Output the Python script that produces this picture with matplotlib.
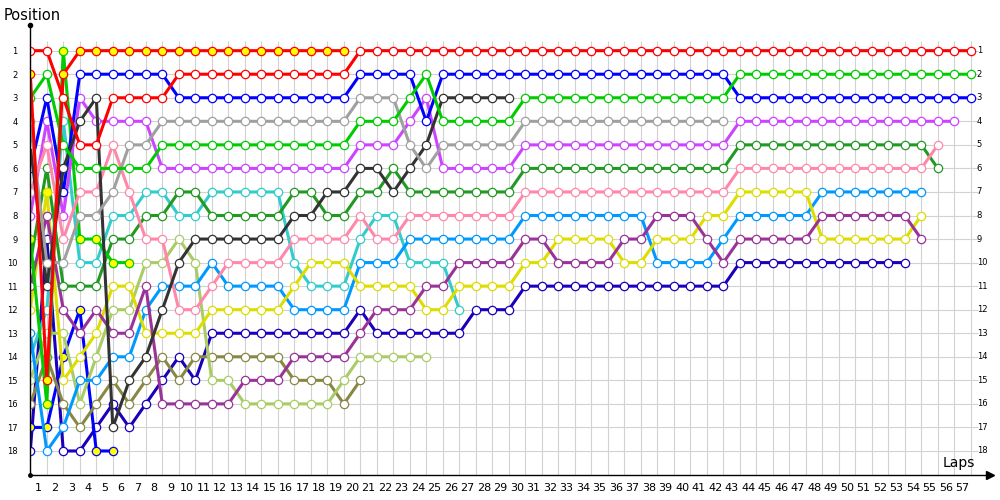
import matplotlib
matplotlib.use("Agg")
import matplotlib.pyplot as plt

# ---------------- data (position per lap column, starting at column 0) ----------------
lap_labels = list(range(1, 58))
position_labels = list(range(1, 19))

red_b = [1, 1, 3, 5, 5, 3, 3, 3, 3,
         2, 2, 2, 2, 2, 2, 2, 2, 2, 2, 2,
         1, 1, 1, 1, 1, 1, 1, 1, 1, 1, 1, 1, 1, 1, 1, 1, 1, 1, 1,
         1, 1, 1, 1, 1, 1, 1, 1, 1, 1, 1, 1, 1, 1, 1, 1, 1, 1, 1]
red_a = [2, 15, 2, 1, 1, 1, 1, 1, 1, 1, 1, 1, 1, 1, 1, 1, 1, 1, 1, 1]
green_a = [3, 2, 5, 6, 6, 6, 6, 6,
           5, 5, 5, 5, 5, 5, 5, 5, 5, 5, 5, 5,
           4, 4, 4, 3, 2, 4, 4, 4, 4, 4,
           3, 3, 3, 3, 3, 3, 3, 3, 3, 3, 3, 3, 3,
           2, 2, 2, 2, 2, 2, 2, 2, 2, 2, 2, 2, 2, 2, 2]
blue = [6, 3, 7, 2, 2, 2, 2, 2, 2,
        3, 3, 3, 3, 3, 3, 3, 3, 3, 3, 3,
        2, 2, 2, 2, 4,
        2, 2, 2, 2, 2, 2, 2, 2, 2, 2, 2, 2, 2, 2, 2, 2, 2, 2,
        3, 3, 3, 3, 3, 3, 3, 3, 3, 3, 3, 3, 3, 3, 3]
gray = [4, 10, 10, 8, 8, 7, 5, 5,
        4, 4, 4, 4, 4, 4, 4, 4, 4, 4, 4, 4,
        3, 3, 3, 5, 6, 5, 5, 5, 5, 5,
        4, 4, 4, 4, 4, 4, 4, 4, 4, 4, 4, 4, 4]
black = [5, 11, 6, 4, 3, 17, 15, 14, 12, 10,
         9, 9, 9, 9, 9, 9, 8, 8, 7, 7,
         6, 6, 7, 6, 5, 3, 3, 3, 3, 3]
pink = [7, 5, 9, 7, 7, 5, 7, 9, 9, 12, 12, 11,
        10, 10, 10, 10, 9, 9, 9, 9,
        8, 9, 9, 8, 8, 8, 8, 8, 8, 8,
        7, 7, 7, 7, 7, 7, 7, 7, 7, 7, 7, 7, 7,
        6, 6, 6, 6, 6, 6, 6, 6, 6, 6, 6, 6, 5]
purple = [8, 4, 8, 3, 4, 4, 4, 4,
          6, 6, 6, 6, 6, 6, 6, 6, 6, 6, 6, 6,
          5, 5, 5, 4, 3, 6, 6, 6, 6, 6,
          5, 5, 5, 5, 5, 5, 5, 5, 5, 5, 5, 5, 5,
          4, 4, 4, 4, 4, 4, 4, 4, 4, 4, 4, 4, 4, 4]
green_b = [9, 16, 1, 9, 9, 10, 10]
dark_green = [10, 6, 11, 11, 11, 9, 9, 8, 8, 7, 7,
              8, 8, 8, 8, 8, 7, 7, 8, 8,
              7, 7, 6, 7, 7, 7, 7, 7, 7, 7,
              6, 6, 6, 6, 6, 6, 6, 6, 6, 6, 6, 6, 6,
              5, 5, 5, 5, 5, 5, 5, 5, 5, 5, 5, 5, 6]
dark_purple = [11, 8, 12, 13, 12, 13, 13, 11,
               16, 16, 16, 16, 16, 15, 15, 15, 14, 14, 14, 14,
               13, 12, 12, 12, 11, 11, 10, 10, 10, 10,
               9, 9, 10, 10, 10, 10, 9, 9, 8, 8, 8, 9, 10,
               9, 9, 9, 9, 9, 8, 8, 8, 8, 8, 8, 9]
yellow = [12, 7, 15, 14, 13, 11, 11, 13,
          13, 13, 13, 12, 12, 12, 12, 12, 11, 10, 10, 10,
          11, 11, 11, 11, 12, 12, 11, 11, 11, 11,
          10, 10, 9, 9, 9, 9, 10, 10, 9, 9, 9, 8, 8,
          7, 7, 7, 7, 7, 9, 9, 9, 9, 9, 9, 8]
light_blue = [13, 18, 17, 15, 15, 14, 14, 12, 11, 11, 11, 10,
              11, 11, 11, 11, 12, 12, 12, 12,
              10, 10, 10, 9, 9, 9, 9, 9, 9, 9,
              8, 8, 8, 8, 8, 8, 8, 8, 10, 10, 10, 10, 9,
              8, 8, 8, 8, 8, 7, 7, 7, 7, 7, 7, 7]
cyan = [14, 12, 4, 10, 10, 8, 8, 7, 7, 8, 8,
        7, 7, 7, 7, 7, 10, 11, 11, 11,
        9, 8, 8, 10, 10, 10, 12]
light_green = [15, 13, 13, 16, 14, 12, 12, 10, 10, 9, 10, 15, 15,
               16, 16, 16, 16, 16, 16, 15,
               14, 14, 14, 14, 14]
olive = [16, 14, 16, 17, 16, 15, 16, 15, 14, 15, 14,
         14, 14, 14, 14, 14, 15, 15, 15, 16, 15]
blue_b = [17, 17, 14, 12, 18, 18]
navy = [18, 9, 18, 18, 17, 16, 17, 16, 15, 14, 15,
        13, 13, 13, 13, 13, 13, 13, 13, 13,
        12, 13, 13, 13, 13, 13, 13, 12, 12, 12,
        11, 11, 11, 11, 11, 11, 11, 11, 11, 11, 11, 11, 11,
        10, 10, 10, 10, 10, 10, 10, 10, 10, 10, 10]

series = [
    (navy, "#1a00bb", "white"),
    (blue_b, "#0000ff", "#ffff00"),
    (olive, "#888844", "white"),
    (light_green, "#aacc66", "white"),
    (cyan, "#33cccc", "white"),
    (light_blue, "#0099ff", "white"),
    (yellow, "#dddd00", "white"),
    (dark_purple, "#993399", "white"),
    (dark_green, "#229922", "white"),
    (green_b, "#00cc00", "#ffff00"),
    (purple, "#cc44ff", "white"),
    (pink, "#ff88aa", "white"),
    (blue, "#0000ff", "white"),
    (black, "#333333", "white"),
    (gray, "#a0a0a0", "white"),
    (green_a, "#00cc00", "white"),
    (red_a, "#ff0000", "#ffff00"),
    (red_b, "#ff0000", "white"),
]

# ---------------- figure ----------------
fig = plt.figure(figsize=(10, 5), dpi=100)
ax = fig.add_axes([0.0303, 0.05, 0.9597, 0.90])
xmax = 58.16
ybot, ytop = 19.02, -0.09
ax.set_xlim(0, xmax)
ax.set_ylim(ybot, ytop)

grid_c = "#d2d2d2"
ax.vlines(range(0, 58), 0.6, ybot, color=grid_c, lw=0.8, zorder=0)
ax.hlines(position_labels, 0, 57.45, color=grid_c, lw=0.8, zorder=0)

for pos, col, face in series:
    ax.plot(range(len(pos)), pos, color=col, lw=2.2, marker="o", ms=6,
            mfc=face, mec=col, mew=0.9, solid_joinstyle="miter", zorder=2)

# yellow driver's yellow-filled marker on column 1
ax.plot([1], [yellow[1]], marker="o", ms=6, mfc="#ffff00", mec="#dddd00",
        mew=0.9, ls="none", zorder=3)

for s in ("top", "right"):
    ax.spines[s].set_visible(False)
for s in ("left", "bottom"):
    ax.spines[s].set_color("black")
    ax.spines[s].set_linewidth(1.0)

ax.set_xticks([k - 0.5 for k in lap_labels])
ax.set_xticklabels([str(k) for k in lap_labels], fontsize=8)
ax.set_yticks(position_labels)
ax.set_yticklabels([str(p) for p in position_labels], fontsize=6)
ax.tick_params(axis="x", length=0, pad=6)
ax.tick_params(axis="y", length=0, pad=9)

for p in position_labels:
    ax.text(57.35, p, str(p), fontsize=6, va="center", ha="left")

# axis decorations
ax.plot([xmax], [ybot], marker=">", color="black", ms=6, clip_on=False, zorder=5)
ax.plot([0], [ytop], marker="o", color="black", ms=3, clip_on=False, zorder=5)
ax.plot([0], [ybot], marker="o", color="black", ms=2.5, clip_on=False, zorder=5)

ax.text(55.3, 18.5, "Laps", fontsize=10, ha="left", va="center")
fig.text(0.004, 0.97, "Position", fontsize=10.5, ha="left", va="center")

fig.savefig("out.png", dpi=100)
